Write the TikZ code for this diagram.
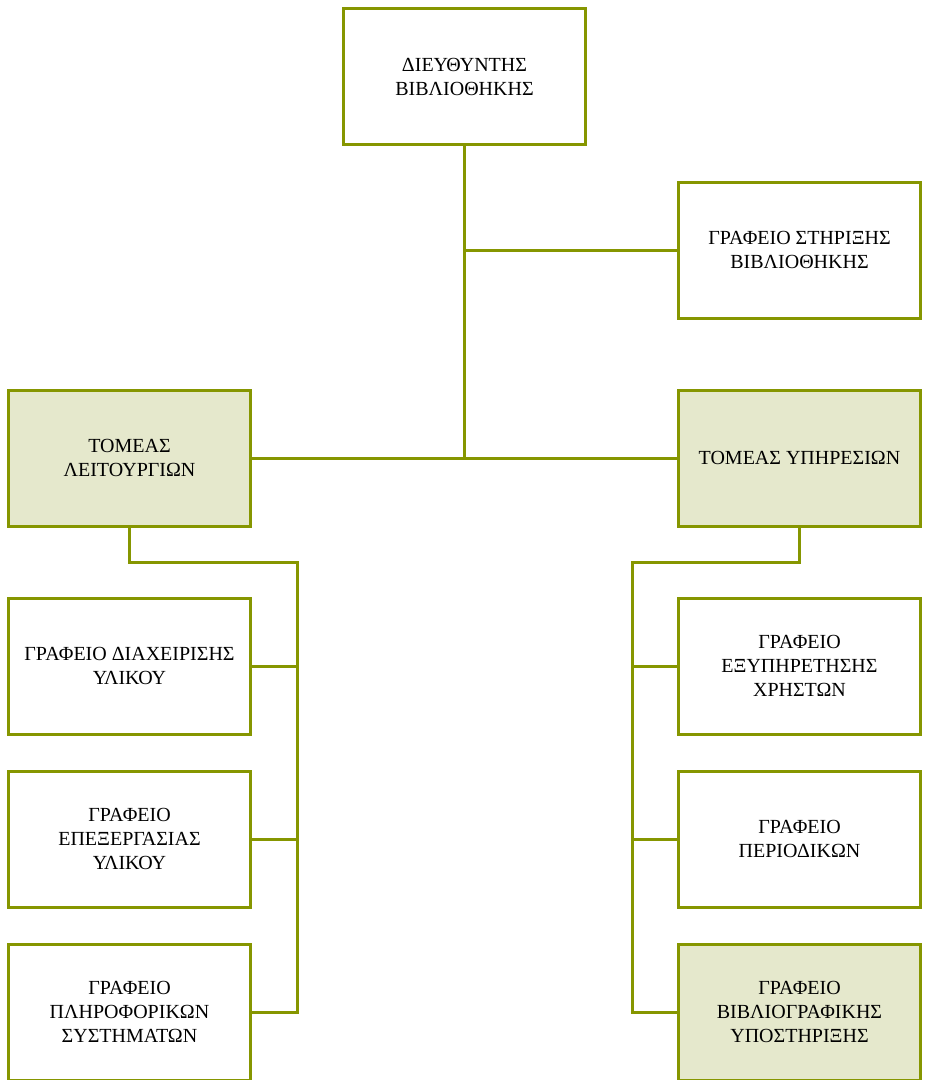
\documentclass[tikz,border=0pt]{standalone}
\usepackage{fontspec}
\setmainfont{Liberation Serif}
\usepackage{tikz}
\definecolor{olivebar}{RGB}{134,150,0}
\definecolor{olivefill}{RGB}{229,232,204}

\begin{document}
\begin{tikzpicture}[x=1pt,y=-1pt,office/.style={draw=olivebar, line width=3pt, fill=white, rectangle, minimum width=242pt, minimum height=136pt, align=center, font=\fontsize{20}{24}\selectfont}]
            \tikzset{sector/.style = {office, fill=olivefill}}
            \tikzset{link/.style = {draw=olivebar, line width=3pt}}

            \useasboundingbox (0,0) rectangle (926,1080);

            \node[office] (director) at (464.5,76.5) {ΔΙΕΥΘΥΝΤΗΣ\\ΒΙΒΛΙΟΘΗΚΗΣ};
            \node[office] (support) at (799.5,250) {ΓΡΑΦΕΙΟ ΣΤΗΡΙΞΗΣ\\ΒΙΒΛΙΟΘΗΚΗΣ};

            \node[sector] (operations) at (129.5,458) {ΤΟΜΕΑΣ\\ΛΕΙΤΟΥΡΓΙΩΝ};
            \node[sector] (services) at (799.5,458) {ΤΟΜΕΑΣ ΥΠΗΡΕΣΙΩΝ};

            \node[office] (material) at (129.5,666) {ΓΡΑΦΕΙΟ ΔΙΑΧΕΙΡΙΣΗΣ\\ΥΛΙΚΟΥ};
            \node[office] (processing) at (129.5,839) {ΓΡΑΦΕΙΟ\\ΕΠΕΞΕΡΓΑΣΙΑΣ\\ΥΛΙΚΟΥ};
            \node[office] (systems) at (129.5,1012) {ΓΡΑΦΕΙΟ\\ΠΛΗΡΟΦΟΡΙΚΩΝ\\ΣΥΣΤΗΜΑΤΩΝ};

            \node[office] (users) at (799.5,666) {ΓΡΑΦΕΙΟ\\ΕΞΥΠΗΡΕΤΗΣΗΣ\\ΧΡΗΣΤΩΝ};
            \node[office] (journals) at (799.5,839) {ΓΡΑΦΕΙΟ\\ΠΕΡΙΟΔΙΚΩΝ};
            \node[sector] (biblio) at (799.5,1012) {ΓΡΑΦΕΙΟ\\ΒΙΒΛΙΟΓΡΑΦΙΚΗΣ\\ΥΠΟΣΤΗΡΙΞΗΣ};

            \coordinate (trunk) at (director.south |- operations.east);
            \coordinate (lbus) at (297,562);
            \coordinate (rbus) at (632,562);

            \draw[link] (director.south) -- (trunk);
            \draw[link] (director.south |- support.west) -- (support.west);
            \draw[link] (operations.east) -- (services.west);

            \draw[link] (operations.south) |- (lbus) -- (lbus |- systems.east) -- (systems.east);
            \draw[link] (lbus |- material.east) -- (material.east);
            \draw[link] (lbus |- processing.east) -- (processing.east);

            \draw[link] (services.south) |- (rbus) -- (rbus |- biblio.west) -- (biblio.west);
            \draw[link] (rbus |- users.west) -- (users.west);
            \draw[link] (rbus |- journals.west) -- (journals.west);
            \end{tikzpicture}
\end{document}
